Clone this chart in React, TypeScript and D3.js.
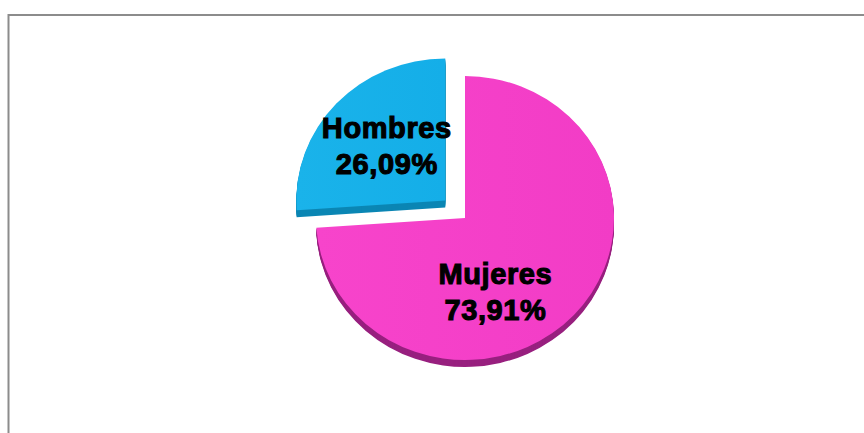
import React, { useEffect, useRef } from "react";
import * as d3 from "d3";

// slices in drawing order (clockwise from 12 o'clock)
const categories = ["Mujeres", "Hombres"];
const percents = [73.91, 26.09];
const topColors = ["#f23cc6", "#14aee8"];
const sideColors = ["#98207f", "#0b86b4"];
const exploded = [false, true];

const W = 864;
const H = 433;

const PieChart3D = () => {
  const svgRef = useRef<SVGSVGElement | null>(null);

  useEffect(() => {
    const svg = d3.select(svgRef.current);
    svg.selectAll("*").remove();

    const cx = 465;
    const cy = 218;
    const rx = 149;
    const ry = 142;
    const depth = 7;
    const explodeDist = 27;
    // small nudges so labels sit where the original put them
    const labelShift: Record<string, [number, number]> = {
      Hombres: [-4, -6],
      Mujeres: [-24, 26],
    };

    const defs = svg.append("defs");
    const gradPink = defs.append("linearGradient").attr("id", "g0")
      .attr("x1", "0%").attr("x2", "100%").attr("y1", "0%").attr("y2", "0%");
    gradPink.append("stop").attr("offset", "0%").attr("stop-color", "#f744cb");
    gradPink.append("stop").attr("offset", "100%").attr("stop-color", topColors[0]);
    const gradBlue = defs.append("linearGradient").attr("id", "g1")
      .attr("x1", "0%").attr("x2", "100%").attr("y1", "0%").attr("y2", "0%");
    gradBlue.append("stop").attr("offset", "0%").attr("stop-color", "#1ab3ea");
    gradBlue.append("stop").attr("offset", "100%").attr("stop-color", topColors[1]);

    // chart frame
    svg.append("rect")
      .attr("x", 8.5).attr("y", 15)
      .attr("width", 880).attr("height", 440)
      .attr("fill", "#fff")
      .attr("stroke", "#8c8c8c")
      .attr("stroke-width", 2);

    const pie = d3.pie<number>().sort(null).value((d) => d);
    const arcs = pie(percents);
    const arc = d3.arc<d3.PieArcDatum<number>>().innerRadius(0).outerRadius(rx);

    const offsetOf = (i: number) => {
      if (!exploded[i]) return [0, 0];
      const a = (arcs[i].startAngle + arcs[i].endAngle) / 2;
      return [Math.sin(a) * explodeDist, -Math.cos(a) * explodeDist * (ry / rx)];
    };

    // draw exploded slice first, then the main one
    const order = [1, 0];
    order.forEach((i) => {
      const [ox, oy] = offsetOf(i);
      const g = svg.append("g");
      for (let k = depth; k >= 1; k--) {
        g.append("path")
          .attr("d", arc(arcs[i]) as string)
          .attr("transform", `translate(${cx + ox},${cy + oy + k}) scale(1,${ry / rx})`)
          .attr("fill", sideColors[i]);
      }
      g.append("path")
        .attr("d", arc(arcs[i]) as string)
        .attr("transform", `translate(${cx + ox},${cy + oy}) scale(1,${ry / rx})`)
        .attr("fill", `url(#g${i})`);
    });

    order.forEach((i) => {
      const [ox, oy] = offsetOf(i);
      const [mx, my] = arc.centroid(arcs[i]);
      const sh = labelShift[categories[i]];
      const lx = cx + ox + mx + sh[0];
      const ly = cy + oy + my * (ry / rx) + sh[1];
      const t = svg.append("text")
        .attr("text-anchor", "middle")
        .attr("font-family", "'Liberation Sans', Arial, sans-serif")
        .attr("font-weight", "bold")
        .attr("font-size", 29)
        .attr("letter-spacing", 0.6)
        .attr("fill", "#000")
        .attr("stroke", "#000")
        .attr("stroke-width", 1.1);
      t.append("tspan").attr("x", lx).attr("y", ly - 8).text(categories[i]);
      t.append("tspan").attr("x", lx).attr("y", ly + 28)
        .text(percents[i].toFixed(2).replace(".", ",") + "%");
    });
  }, []);

  return (
    <svg
      ref={svgRef}
      width={W}
      height={H}
      style={{ position: "absolute", left: 0, top: 0, background: "#fff" }}
    />
  );
};

const App = () => <PieChart3D />;

export default App;
